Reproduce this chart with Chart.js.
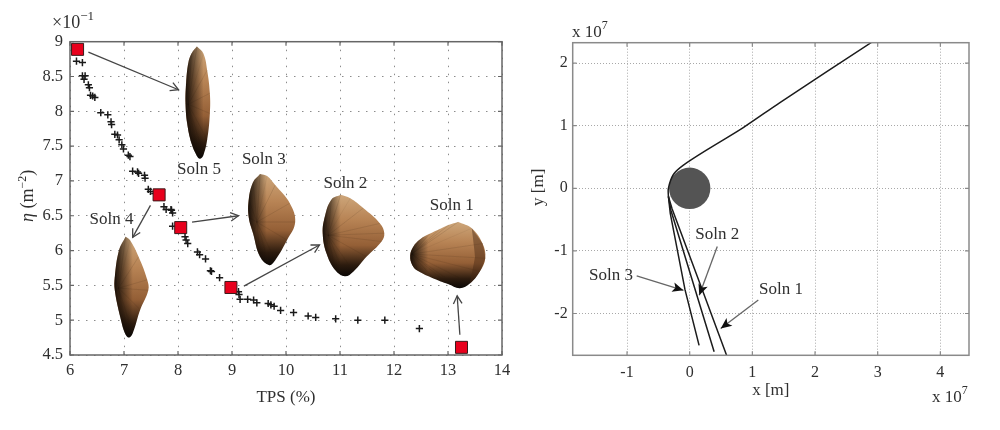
<!DOCTYPE html>
<html>
<head>
<meta charset="utf-8">
<title>Pareto front and trajectories</title>
<script src="https://cdn.jsdelivr.net/npm/chart.js@4"></script>
<style>
  html, body { margin: 0; padding: 0; background: #fff; }
  canvas { position: absolute; top: 0; filter: blur(0.4px); }
  #pareto { left: 0; }
  #traj { left: 520px; }
</style>
</head>
<body>
<canvas id="pareto" width="520" height="430"></canvas>
<canvas id="traj" width="480" height="430"></canvas>
<script>
// --- left plot data ---
const paretoXTicks = [6, 7, 8, 9, 10, 11, 12, 13, 14];
const paretoYTicks = [4.5, 5, 5.5, 6, 6.5, 7, 7.5, 8, 8.5, 9];

const frontX = [6.12, 6.23, 6.23, 6.28, 6.26, 6.34, 6.36, 6.38, 6.42, 6.46, 6.57, 6.70, 6.76, 6.77, 6.83, 6.88, 6.91, 6.96, 6.99, 7.08, 7.11, 7.16, 7.25, 7.27, 7.38, 7.39, 7.45, 7.49, 7.57, 7.74, 7.78, 7.87, 7.88, 7.90, 7.90, 8.13, 8.15, 8.18, 8.36, 8.40, 8.51, 8.60, 8.62, 8.77, 9.12, 9.13, 9.15, 9.29, 9.40, 9.46, 9.67, 9.72, 9.78, 9.90, 10.14, 10.41, 10.55, 10.92, 11.33, 11.83, 12.47];
const frontY = [8.72, 8.70, 8.51, 8.51, 8.46, 8.38, 8.34, 8.23, 8.22, 8.20, 7.98, 7.95, 7.85, 7.81, 7.67, 7.66, 7.59, 7.52, 7.46, 7.37, 7.35, 7.14, 7.13, 7.11, 7.08, 7.04, 6.88, 6.85, 6.82, 6.63, 6.59, 6.59, 6.58, 6.54, 6.35, 6.20, 6.15, 6.10, 5.98, 5.94, 5.88, 5.71, 5.70, 5.61, 5.41, 5.37, 5.30, 5.30, 5.29, 5.25, 5.24, 5.22, 5.20, 5.14, 5.11, 5.06, 5.04, 5.02, 5.00, 5.00, 4.88];

const pickedX = [6.14, 7.65, 8.05, 8.98, 13.25];
const pickedY = [8.89, 6.80, 6.33, 5.47, 4.61];

// capsule outlines
const soln1Shape = [[13.19,6.41],[13.02,6.37],[12.85,6.31],[12.66,6.24],[12.48,6.16],[12.36,6.06],[12.30,5.93],[12.34,5.79],[12.44,5.71],[12.73,5.60],[13.00,5.52],[13.22,5.46],[13.41,5.53],[13.59,5.70],[13.69,5.89],[13.64,6.10],[13.44,6.32]];
const soln1Rim = [[13.44,6.32],[13.64,6.10],[13.69,5.89],[13.59,5.70],[13.41,5.53],[13.50,5.91]];
const soln2Shape = [[11.01,6.80],[10.84,6.73],[10.72,6.49],[10.68,6.25],[10.75,5.96],[10.91,5.72],[11.09,5.63],[11.25,5.70],[11.49,5.91],[11.77,6.13],[11.82,6.25],[11.74,6.39],[11.43,6.61],[11.19,6.75]];
const soln3Shape = [[9.52,7.10],[9.39,6.98],[9.31,6.73],[9.31,6.48],[9.39,6.25],[9.52,5.91],[9.69,5.79],[9.80,5.86],[10.02,6.15],[10.17,6.41],[10.07,6.68],[9.80,6.94],[9.65,7.07]];
const soln4Shape = [[7.03,6.20],[6.91,6.01],[6.83,5.62],[6.83,5.43],[6.93,5.05],[7.02,4.81],[7.09,4.75],[7.16,4.81],[7.30,5.15],[7.45,5.43],[7.43,5.58],[7.27,5.91],[7.11,6.15]];
const soln5Shape = [[8.35,8.93],[8.25,8.83],[8.19,8.69],[8.15,8.40],[8.14,8.11],[8.17,7.83],[8.25,7.54],[8.35,7.36],[8.41,7.32],[8.47,7.37],[8.54,7.59],[8.59,7.97],[8.59,8.26],[8.54,8.59],[8.47,8.83]];
const shapes = [soln1Shape, soln2Shape, soln3Shape, soln4Shape, soln5Shape];
const noses = [[12.33,5.95],[10.78,6.22],[9.46,6.41],[6.90,5.46],[8.19,8.10]];

const paretoArrows = [
  [[6.34,8.85],[8.01,8.31]],
  [[7.49,6.65],[7.16,6.19]],
  [[8.26,6.41],[9.12,6.50]],
  [[9.22,5.49],[10.62,6.08]],
  [[13.22,4.79],[13.17,5.35]]
];
const paretoLabels = [
  ['Soln 5', 8.39, 7.16],
  ['Soln 3', 9.59, 7.31],
  ['Soln 2', 11.10, 6.97],
  ['Soln 1', 13.07, 6.64],
  ['Soln 4', 6.77, 6.44]
];

// --- right plot data (x and y in units of 1e7 m) ---
const trajXTicks = [-1, 0, 1, 2, 3, 4];
const trajYTicks = [-2, -1, 0, 1, 2];

const approachPath = [[2.90,2.33],[1.44,1.37],[0.855,0.97],[0.30,0.63],[-0.10,0.37],[-0.26,0.22],[-0.34,0.0],[-0.34,-0.13]];
const soln1Path = [[-0.34,-0.13],[-0.28,-0.33],[0.26,-1.78],[0.59,-2.67]];
const soln2Path = [[-0.34,-0.13],[-0.30,-0.35],[0.39,-2.61]];
const soln3Path = [[-0.34,-0.13],[-0.31,-0.40],[-0.075,-1.62],[0.15,-2.51]];
const planetCentre = [[0, 0]];

const trajArrows = [
  [[0.44,-0.93],[0.153,-1.71]],
  [[-0.846,-1.40],[-0.10,-1.63]],
  [[1.095,-1.785],[0.495,-2.24]]
];
const trajLabels = [
  ['Soln 2', 0.44, -0.746],
  ['Soln 3', -1.256, -1.396],
  ['Soln 1', 1.457, -1.625]
];

const SERIF = '"Liberation Serif", serif';
const INK = '#2f2f2f';

const toPoints = (pairs) => pairs.map(p => ({ x: p[0], y: p[1] }));
const closed = (pairs) => toPoints(pairs.concat([pairs[0]]));

// body shading: tan on top, going black at the underside
function bodyGradient(pairs) {
  return (ctx) => {
    const { chart } = ctx;
    if (!chart.chartArea) return '#a87547';
    const ys = pairs.map(p => chart.scales.y.getPixelForValue(p[1]));
    const g = chart.ctx.createLinearGradient(0, Math.min(...ys), 0, Math.max(...ys));
    g.addColorStop(0, '#cda67a');
    g.addColorStop(0.3, '#b88455');
    g.addColorStop(0.62, '#945f36');
    g.addColorStop(0.86, '#2c1b0e');
    g.addColorStop(1, '#0a0705');
    return g;
  };
}
// dark heat shield edge on the nose side
function noseGradient(pairs) {
  return (ctx) => {
    const { chart } = ctx;
    if (!chart.chartArea) return 'rgba(0,0,0,0)';
    const xs = pairs.map(p => chart.scales.x.getPixelForValue(p[0]));
    const left = Math.min(...xs);
    const g = chart.ctx.createLinearGradient(left, 0, left + 18, 0);
    g.addColorStop(0, 'rgba(12,7,3,0.9)');
    g.addColorStop(1, 'rgba(12,7,3,0)');
    return g;
  };
}

function shapeDatasets() {
  const out = [];
  shapes.forEach((pairs, i) => {
    const base = { showLine: true, tension: 0.4, pointRadius: 0, borderWidth: 0, fill: 'shape' };
    out.push({ ...base, data: closed(pairs), backgroundColor: bodyGradient(pairs), order: 12 });
    out.push({ ...base, data: closed(pairs), backgroundColor: noseGradient(pairs), order: 10 });
    const ribs = [];
    pairs.forEach(p => { ribs.push({ x: noses[i][0], y: noses[i][1] }); ribs.push({ x: p[0], y: p[1] }); });
    out.push({ showLine: true, tension: 0, pointRadius: 0, borderWidth: 0.5, borderColor: 'rgba(50,28,12,0.13)', data: ribs, fill: false, order: 11 });
  });
  out.push({ showLine: true, tension: 0.1, pointRadius: 0, borderWidth: 0, fill: 'shape', data: closed(soln1Rim), backgroundColor: 'rgba(70,40,20,0.45)', order: 9 });
  return out;
}

function arrowDatasets(arrows, color) {
  return arrows.map(a => ({ showLine: true, pointRadius: 0, borderWidth: 1.3, borderColor: color, data: toPoints(a), fill: false, order: 4 }));
}

// frame, inward ticks, labels and arrow heads
function overlayPlugin(cfg) {
  return {
    id: 'overlay',
    afterDatasetsDraw(chart) {
      const { ctx, chartArea: area, scales } = chart;
      ctx.save();
      ctx.strokeStyle = cfg.frameColor;
      ctx.lineWidth = 1.5;
      ctx.strokeRect(area.left, area.top, area.right - area.left, area.bottom - area.top);
      ctx.lineWidth = 1.2;
      ctx.beginPath();
      scales.x.ticks.forEach(t => {
        const px = scales.x.getPixelForValue(t.value);
        ctx.moveTo(px, area.bottom); ctx.lineTo(px, area.bottom - 4);
        ctx.moveTo(px, area.top); ctx.lineTo(px, area.top + 4);
      });
      scales.y.ticks.forEach(t => {
        const py = scales.y.getPixelForValue(t.value);
        ctx.moveTo(area.left, py); ctx.lineTo(area.left + 4, py);
        ctx.moveTo(area.right, py); ctx.lineTo(area.right - 4, py);
      });
      ctx.stroke();

      cfg.arrows.forEach(a => {
        const x1 = scales.x.getPixelForValue(a[0][0]), y1 = scales.y.getPixelForValue(a[0][1]);
        const x2 = scales.x.getPixelForValue(a[1][0]), y2 = scales.y.getPixelForValue(a[1][1]);
        const ang = Math.atan2(y2 - y1, x2 - x1);
        const len = cfg.headLen, spread = cfg.headSpread;
        ctx.beginPath();
        ctx.moveTo(x2 - len * Math.cos(ang - spread), y2 - len * Math.sin(ang - spread));
        ctx.lineTo(x2, y2);
        ctx.lineTo(x2 - len * Math.cos(ang + spread), y2 - len * Math.sin(ang + spread));
        if (cfg.headFilled) {
          ctx.lineTo(x2 - len * 0.7 * Math.cos(ang), y2 - len * 0.7 * Math.sin(ang));
          ctx.closePath();
          ctx.fillStyle = '#111';
          ctx.fill();
        } else {
          ctx.strokeStyle = cfg.arrowColor;
          ctx.lineWidth = 1.3;
          ctx.stroke();
        }
      });

      ctx.fillStyle = INK;
      ctx.textAlign = 'center';
      ctx.textBaseline = 'middle';
      ctx.font = '17px ' + SERIF;
      cfg.labels.forEach(l => {
        ctx.fillText(l[0], scales.x.getPixelForValue(l[1]), scales.y.getPixelForValue(l[2]));
      });

      ctx.textAlign = 'left';
      ctx.textBaseline = 'alphabetic';
      cfg.exponents.forEach(e => {
        ctx.font = e.size + 'px ' + SERIF;
        ctx.fillText(e.base, e.x, e.y);
        const w = ctx.measureText(e.base).width;
        ctx.font = (e.size - 5) + 'px ' + SERIF;
        ctx.fillText(e.sup, e.x + w, e.y - 8);
      });

      // rotated y axis title, pieces laid end to end going up
      ctx.translate(cfg.yTitle.x, cfg.yTitle.y);
      ctx.rotate(-Math.PI / 2);
      let along = 0;
      cfg.yTitle.pieces.forEach(p => {
        ctx.font = p.font + ' ' + SERIF;
        ctx.fillText(p.text, along, p.rise || 0);
        along += ctx.measureText(p.text).width;
      });
      ctx.restore();
    }
  };
}

function makeAxis(axis, lo, hi, tickList, opts) {
  return {
    type: 'linear',
    min: lo,
    max: hi,
    afterBuildTicks: (scale) => { scale.ticks = tickList.map(v => ({ value: v })); },
    afterFit: (scale) => {
      if (axis === 'x') scale.height = opts.fit; else scale.width = opts.fit;
    },
    grid: {
      color: opts.gridColor,
      lineWidth: 1,
      drawTicks: false,
      tickLength: 0
    },
    border: { display: false, dash: opts.dash },
    ticks: {
      callback: (v) => String(v),
      color: INK,
      padding: opts.tickPad,
      maxRotation: 0,
      autoSkip: false,
      font: { family: SERIF, size: opts.tickSize }
    },
    title: {
      display: !!opts.title,
      text: opts.title,
      color: INK,
      padding: opts.titlePad,
      font: { family: SERIF, size: opts.titleSize }
    }
  };
}

const baseOptions = {
  responsive: false,
  animation: false,
  devicePixelRatio: 1,
  plugins: { legend: { display: false }, tooltip: { enabled: false } }
};

new Chart(document.getElementById('pareto'), {
  type: 'scatter',
  data: {
    datasets: [
      {
        data: pickedX.map((x, i) => ({ x: x, y: pickedY[i] })),
        pointStyle: 'rect', pointRadius: 8.5, backgroundColor: '#e8001c', borderColor: '#3a1a1a', borderWidth: 1, order: 1
      },
      {
        data: frontX.map((x, i) => ({ x: x, y: frontY[i] })),
        pointStyle: 'cross', pointRadius: 3.6, borderColor: '#1a1a1a', borderWidth: 1.5, order: 2
      },
      ...arrowDatasets(paretoArrows, '#454545'),
      ...shapeDatasets()
    ]
  },
  options: {
    ...baseOptions,
    layout: { padding: { left: 0, top: 41.7, right: 18, bottom: 0 } },
    scales: {
      x: makeAxis('x', 6, 14, paretoXTicks, { fit: 75, gridColor: '#8c8c8c', dash: [1.5, 6.5], tickPad: 6, tickSize: 16.5, title: 'TPS (%)', titleSize: 17, titlePad: { top: 8, bottom: 22 } }),
      y: makeAxis('y', 4.5, 9, paretoYTicks, { fit: 70, gridColor: '#8c8c8c', dash: [1.5, 6.5], tickPad: 7, tickSize: 16.5 })
    }
  },
  plugins: [overlayPlugin({
    frameColor: '#666',
    arrows: paretoArrows,
    arrowColor: '#454545',
    headLen: 9,
    headSpread: 0.5,
    headFilled: false,
    labels: paretoLabels,
    exponents: [{ base: '×10', sup: '−1', x: 52, y: 28, size: 18 }],
    yTitle: {
      x: 33, y: 222,
      pieces: [
        { text: 'η', font: 'italic 18px' },
        { text: ' (m', font: '18px' },
        { text: '−2', font: '12px', rise: -7 },
        { text: ')', font: '18px' }
      ]
    }
  })]
});

const trajLine = (path, tension) => ({ showLine: true, tension: tension || 0, pointRadius: 0, borderWidth: 1.5, borderColor: '#1c1c1c', data: toPoints(path), fill: false, order: 3 });

new Chart(document.getElementById('traj'), {
  type: 'scatter',
  data: {
    datasets: [
      ...arrowDatasets(trajArrows, '#666'),
      trajLine(approachPath, 0.3),
      trajLine(soln1Path),
      trajLine(soln2Path),
      trajLine(soln3Path),
      { data: toPoints(planetCentre), pointStyle: 'circle', pointRadius: 20.7, borderWidth: 0, backgroundColor: '#545454', order: 8 }
    ]
  },
  options: {
    ...baseOptions,
    layout: { padding: { left: 0, top: 42.7, right: 31, bottom: 0 } },
    scales: {
      x: makeAxis('x', -1.867, 4.457, trajXTicks, { fit: 74.7, gridColor: '#a8a8a8', dash: [1, 2], tickPad: 8, tickSize: 16, title: 'x [m]', titleSize: 17, titlePad: { top: 4, bottom: 29 } }),
      y: makeAxis('y', -2.668, 2.326, trajYTicks, { fit: 52.7, gridColor: '#a8a8a8', dash: [1, 2], tickPad: 5, tickSize: 16 })
    }
  },
  plugins: [overlayPlugin({
    frameColor: '#8a8a8a',
    arrows: trajArrows,
    arrowColor: '#666',
    headLen: 12,
    headSpread: 0.42,
    headFilled: true,
    labels: trajLabels,
    exponents: [
      { base: 'x 10', sup: '7', x: 52, y: 37, size: 17 },
      { base: 'x 10', sup: '7', x: 412, y: 402, size: 17 }
    ],
    yTitle: {
      x: 23, y: 206,
      pieces: [{ text: 'y [m]', font: '17px' }]
    }
  })]
});
</script>
</body>
</html>
